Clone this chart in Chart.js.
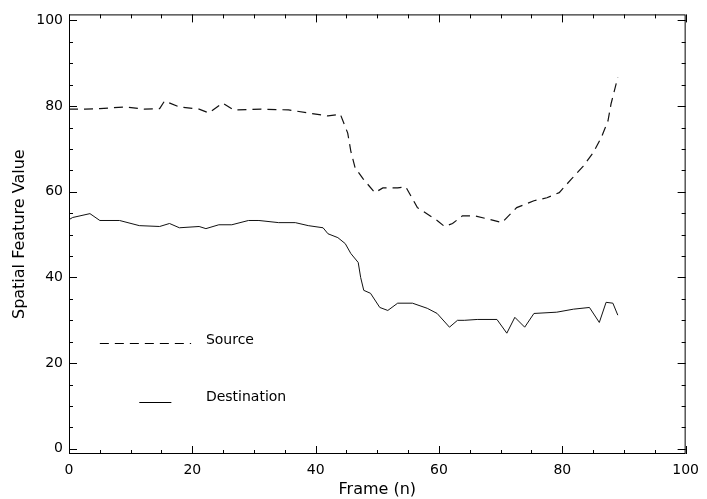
<!DOCTYPE html>
<html>
<head>
<meta charset="utf-8">
<script src="https://cdn.jsdelivr.net/npm/chart.js@4.4.1/dist/chart.umd.min.js"></script>
<style>
  html, body { margin: 0; padding: 0; background: #fff; }
  #wrap { width: 707px; height: 499px; }
</style>
</head>
<body>
<div id="wrap"><canvas id="grafica"></canvas></div>
<script>
// Datos
const sourceFrames = [0, 2.6, 5, 9, 12.2, 14.7, 15.5, 17.9, 21.1, 22.7, 24.9, 26.7, 31.2, 35.6, 42, 44,
  45.2, 45.7, 46.4, 47.7, 49.6, 50.9, 53.3, 54.6, 56.5, 59.7, 60.9, 62.2, 63.8, 65.7, 67.8, 70.2,
  72.6, 75.4, 77.5, 79.5, 81.5, 83.4, 85, 86.3, 87.4, 87.9, 89];
const sourceValues = [79.3, 79.3, 79.4, 79.8, 79.3, 79.4, 81.2, 79.8, 79.3, 78.4, 80.7, 79.1, 79.3, 79.1, 77.7, 78.1,
  73.7, 69.5, 65.6, 63, 59.8, 60.9, 60.9, 61.2, 56.3, 53.3, 51.9, 52.6, 54.4, 54.4, 53.7, 52.8,
  56.3, 57.9, 58.6, 59.8, 63, 66, 69.1, 72.6, 76.5, 80.5, 86.7];

const destFrames = [0, 0.6, 3.4, 5, 8.2, 11.4, 14.7, 16.3, 17.9, 21.1, 22.2, 24.3, 26.4, 29.1, 30.8, 34, 36.7,
  38.8, 41.2, 42, 43.6, 44.8, 45.7, 46.9, 47.3, 47.8, 48.9, 50.4, 51.7, 53.3, 55.7, 58.1, 59.7,
  61.7, 63, 64.1, 66.2, 69.4, 71, 72.3, 73.9, 75.4, 79.1, 81.8, 84.4, 86, 87.1, 88.2, 89];
const destValues = [53.5, 54, 54.9, 53.3, 53.3, 52.1, 51.9, 52.6, 51.6, 51.9, 51.4, 52.3, 52.3, 53.3, 53.3, 52.8, 52.8,
  52.1, 51.6, 50.2, 49.3, 47.9, 45.6, 43.5, 40, 37, 36.3, 33, 32.3, 34, 34, 32.8, 31.6,
  28.4, 30, 30, 30.2, 30.2, 27, 30.7, 28.4, 31.6, 31.9, 32.6, 33, 29.5, 34.2, 34, 31.2];

const xTicks = [0, 20, 40, 60, 80, 100];
const yTicks = [0, 20, 40, 60, 80, 100];

const fuente = { family: 'DejaVu Sans', size: 14 };
const fuenteTitulo = { family: 'DejaVu Sans', size: 16 };

// Marco con marcas hacia dentro y leyenda dentro del área
const marco = {
  id: 'marco',
  afterDraw(chart) {
    const { ctx, chartArea: a, scales: { x, y } } = chart;
    ctx.save();
    ctx.strokeStyle = '#000';
    ctx.lineWidth = 1;
    ctx.strokeRect(a.left + 0.5, a.top + 0.5, a.width - 1, a.height - 1);
    ctx.beginPath();
    for (let v = 0; v <= 100; v += 5) {
      const len = v % 20 === 0 ? 8 : 4;
      const px = Math.round(x.getPixelForValue(v)) + 0.5;
      ctx.moveTo(px, a.bottom); ctx.lineTo(px, a.bottom - len);
      ctx.moveTo(px, a.top); ctx.lineTo(px, a.top + len);
      const py = Math.round(y.getPixelForValue(v)) + 0.5;
      ctx.moveTo(a.left, py); ctx.lineTo(a.left + len, py);
      ctx.moveTo(a.right, py); ctx.lineTo(a.right - len, py);
    }
    ctx.stroke();

    // leyenda
    ctx.font = '14px "DejaVu Sans"';
    ctx.fillStyle = '#000';
    ctx.textBaseline = 'middle';
    const ySrc = Math.round(y.getPixelForValue(24.7)) + 0.5;
    ctx.setLineDash([9, 6]);
    ctx.lineWidth = 1.2;
    ctx.beginPath();
    ctx.moveTo(x.getPixelForValue(5), ySrc);
    ctx.lineTo(x.getPixelForValue(19.8), ySrc);
    ctx.stroke();
    ctx.fillText('Source', x.getPixelForValue(22.2), ySrc - 3);

    const yDst = Math.round(y.getPixelForValue(10.9)) + 0.5;
    ctx.setLineDash([]);
    ctx.lineWidth = 1;
    ctx.beginPath();
    ctx.moveTo(x.getPixelForValue(11.4), yDst);
    ctx.lineTo(x.getPixelForValue(16.6), yDst);
    ctx.stroke();
    ctx.fillText('Destination', x.getPixelForValue(22.2), yDst - 5);
    ctx.restore();
  }
};

function aPuntos(frames, valores) {
  return frames.map((f, i) => ({ x: f, y: valores[i] }));
}

const ctx = document.getElementById('grafica').getContext('2d');
new Chart(ctx, {
  type: 'scatter',
  data: {
    datasets: [
      {
        label: 'Source',
        data: aPuntos(sourceFrames, sourceValues),
        showLine: true,
        borderColor: '#111',
        borderWidth: 1.2,
        borderDash: [9, 6],
        pointRadius: 0,
        tension: 0
      },
      {
        label: 'Destination',
        data: aPuntos(destFrames, destValues),
        showLine: true,
        borderColor: '#111',
        borderWidth: 1,
        pointRadius: 0,
        tension: 0
      }
    ]
  },
  options: {
    responsive: true,
    maintainAspectRatio: false,
    animation: false,
    layout: { padding: { top: 13, right: 17, left: 0, bottom: 0 } },
    plugins: {
      legend: { display: false },
      tooltip: { enabled: false }
    },
    scales: {
      x: {
        type: 'linear',
        min: 0,
        max: 100,
        afterBuildTicks: s => { s.ticks = xTicks.map(v => ({ value: v })); },
        afterFit: s => { s.height = 45; },
        grid: { display: false, drawTicks: false },
        border: { display: false },
        ticks: { color: '#000', font: fuente, padding: 8, maxRotation: 0 },
        title: { display: true, text: 'Frame (n)', color: '#000', font: fuenteTitulo, padding: { top: 0, bottom: 0 } }
      },
      y: {
        type: 'linear',
        min: -1.2,
        max: 101.4,
        afterBuildTicks: s => { s.ticks = yTicks.map(v => ({ value: v })); },
        afterFit: s => { s.width = 69; },
        grid: { display: false, drawTicks: false },
        border: { display: false },
        ticks: { color: '#000', font: fuente, padding: 6 },
        title: { display: true, text: 'Spatial Feature Value', color: '#000', font: fuenteTitulo, padding: { top: 10, bottom: 0 } }
      }
    }
  },
  plugins: [marco]
});
</script>
</body>
</html>
